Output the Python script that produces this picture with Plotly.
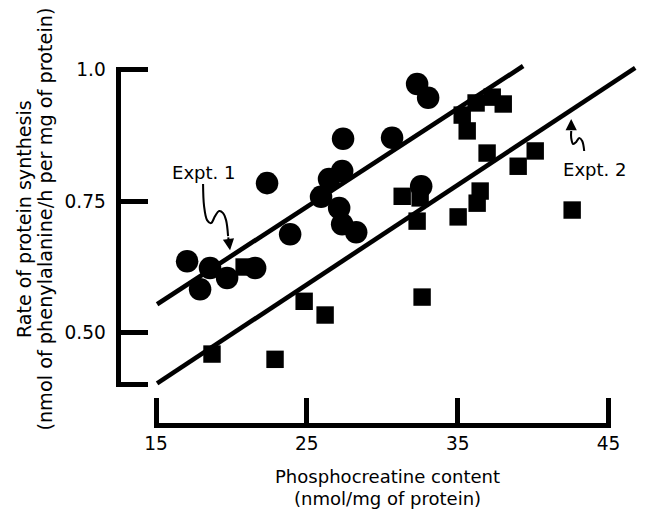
import plotly.graph_objects as go

# ---- data ----
expt1_pc = [17.06, 17.92, 18.58, 19.71, 21.57, 22.36, 23.89, 25.94, 26.47,
            27.34, 27.40, 27.14, 27.34, 28.27, 30.65, 32.31, 33.04, 32.58]
expt1_rate = [0.636, 0.583, 0.623, 0.604, 0.623, 0.784, 0.687, 0.758, 0.792,
              0.807, 0.868, 0.737, 0.706, 0.691, 0.870, 0.972, 0.946, 0.778]

expt2_pc = [18.71, 20.84, 22.89, 24.82, 26.21, 31.32, 32.51, 32.31, 32.64,
            35.03, 36.29, 36.49, 36.95, 39.01, 40.14, 42.59, 35.30, 35.63,
            36.22, 37.29, 38.02]
expt2_rate = [0.460, 0.625, 0.450, 0.560, 0.534, 0.759, 0.756, 0.712, 0.568,
              0.720, 0.746, 0.769, 0.841, 0.816, 0.845, 0.733, 0.913, 0.883,
              0.936, 0.947, 0.934]

fit1_x = [15.07, 39.34]
fit1_y = [0.5545, 1.006]
fit2_x = [15.07, 46.77]
fit2_y = [0.4045, 1.0025]

x_ticks = [15, 25, 35, 45]
x_ticktext = ["15", "25", "35", "45"]
y_ticks = [0.402, 0.50, 0.75, 1.0]
y_ticktext = ["", "0.50", "0.75", "1.0"]

# label squiggles (annotation decorations)
squig1_x = [18.117, 18.184, 18.383, 18.648, 18.913, 19.179, 19.444, 19.643, 19.776]
squig1_y = [0.7823, 0.7405, 0.7139, 0.7082, 0.7215, 0.7310, 0.7272, 0.7139, 0.6836]
tip1 = (19.908, 0.657)
squig2_x = [42.526, 42.526, 42.659, 42.858, 43.057, 43.256, 43.388]
squig2_y = [0.8829, 0.8696, 0.8582, 0.8620, 0.8696, 0.8639, 0.8449]
tip2 = (42.526, 0.9057)

FONT = "DejaVu Sans, Verdana, sans-serif"
INK = "#000000"

# ---- page geometry: the page is photographed with the browser's default
# body margin and rescaled, so layout positions are pre-compensated ----
W, H = 652, 512
SX, OXP = 0.969, 10.0     # horizontal scale / offset of the photographed page
SY, OYP = 0.983, 7.2      # vertical scale / offset
SM = (SX + SY) / 2


def px_x(p):
    """window pixel (x) -> paper fraction"""
    return (p - OXP) / SX / W


def px_y(p):
    """window pixel (y, from top) -> paper fraction"""
    return 1 - (p - OYP) / SY / H


# axis scale in window pixels (x: value 15 at 156px, 15.077 px/unit;
# y: value 1.0 at 68.3px, 526.8 px/unit)
X0P, XPX = 156.0, 15.077
Y0P, YPX = 68.3, 526.8


def xval(p):
    return 15 + (p - X0P) / XPX


def yval(p):
    return 1.0 - (p - Y0P) / YPX


PAD = 2.25   # half tick width so end ticks form flush corners
LW = 4.5 / SM
FS = 1 / 0.9697

fig = go.Figure()

fig.add_trace(go.Scatter(x=fit1_x, y=fit1_y, mode="lines",
                         line=dict(color=INK, width=LW), hoverinfo="skip"))
fig.add_trace(go.Scatter(x=fit2_x, y=fit2_y, mode="lines",
                         line=dict(color=INK, width=LW), hoverinfo="skip"))
fig.add_trace(go.Scatter(x=expt1_pc, y=expt1_rate, mode="markers", name="Expt. 1",
                         marker=dict(symbol="circle", size=22 / SM, color=INK,
                                     line=dict(width=0))))
fig.add_trace(go.Scatter(x=expt2_pc, y=expt2_rate, mode="markers", name="Expt. 2",
                         marker=dict(symbol="square", size=17 / SM, color=INK,
                                     line=dict(width=0))))
fig.add_trace(go.Scatter(x=squig1_x, y=squig1_y, mode="lines",
                         line=dict(color=INK, width=2 / SM, shape="spline", smoothing=1),
                         hoverinfo="skip"))
fig.add_trace(go.Scatter(x=squig2_x, y=squig2_y, mode="lines",
                         line=dict(color=INK, width=2 / SM, shape="spline", smoothing=1),
                         hoverinfo="skip"))
# invisible trace so the detached axes are drawn
fig.add_trace(go.Scatter(x=[30], y=[0.7], xaxis="x2", yaxis="y2", mode="markers",
                         marker=dict(opacity=0), hoverinfo="skip"))

fig.update_layout(
    width=W, height=H, showlegend=False,
    margin=dict(l=0, r=0, t=0, b=0),
    paper_bgcolor="white", plot_bgcolor="rgba(0,0,0,0)",
    font=dict(family=FONT, color=INK, size=18 * FS),
    xaxis=dict(domain=[0, 1], range=[xval(OXP), xval(OXP + W * SX)], visible=False,
               fixedrange=True),
    yaxis=dict(domain=[0, 1], range=[yval(OYP + H * SY), yval(OYP)], visible=False,
               fixedrange=True),
    xaxis2=dict(domain=[px_x(156 - PAD), px_x(608.3 + PAD)],
                range=[15 - PAD / XPX, 45 + PAD / XPX], anchor="free",
                position=px_y(424), showline=True, linewidth=LW, linecolor=INK,
                ticks="inside", ticklen=25 / SY, tickwidth=LW, tickcolor=INK,
                tickvals=x_ticks, ticktext=x_ticktext, showgrid=False, zeroline=False,
                tickfont=dict(size=18 * FS, family=FONT, color=INK),
                ticklabelstandoff=0, fixedrange=True),
    yaxis2=dict(domain=[px_y(383.3 + PAD), px_y(68.3 - PAD)],
                range=[0.402 - PAD / YPX, 1.0 + PAD / YPX],
                anchor="free", position=px_x(118.3), showline=True, linewidth=LW,
                linecolor=INK, ticks="inside", ticklen=26.5 / SX, tickwidth=LW,
                tickcolor=INK, tickvals=y_ticks, ticktext=y_ticktext, showgrid=False,
                zeroline=False, tickfont=dict(size=18 * FS, family=FONT, color=INK),
                ticklabelstandoff=7, fixedrange=True),
)

ann = []
ann.append(dict(text="Expt. 1", x=18.18, y=0.805, xref="x", yref="y",
                showarrow=False, font=dict(size=17.5 * FS), xanchor="center",
                yanchor="middle"))
ann.append(dict(text="Expt. 2", x=44.12, y=0.8107, xref="x", yref="y",
                showarrow=False, font=dict(size=17.5 * FS), xanchor="center",
                yanchor="middle"))
ann.append(dict(text="", x=tip1[0], y=tip1[1], xref="x", yref="y",
                ax=-2 / SX, ay=-14 / SY, showarrow=True, arrowhead=2, arrowsize=1.1,
                arrowwidth=2 / SM, arrowcolor=INK, standoff=0))
ann.append(dict(text="", x=tip2[0], y=tip2[1], xref="x", yref="y",
                ax=0, ay=12 / SY, showarrow=True, arrowhead=2, arrowsize=1.1,
                arrowwidth=2 / SM, arrowcolor=INK, standoff=0))
# axis titles
ann.append(dict(text="Phosphocreatine content", x=px_x(387), y=px_y(475),
                xref="paper", yref="paper", showarrow=False,
                font=dict(size=17.5 * FS), xanchor="center", yanchor="middle"))
ann.append(dict(text="(nmol/mg of protein)", x=px_x(387), y=px_y(497),
                xref="paper", yref="paper", showarrow=False,
                font=dict(size=17.5 * FS), xanchor="center", yanchor="middle"))
ann.append(dict(text="Rate of protein synthesis", x=px_x(23.5), y=px_y(218.5),
                xref="paper", yref="paper", showarrow=False,
                font=dict(size=18.5 * FS), textangle=-90, xanchor="center",
                yanchor="middle"))
ann.append(dict(text="(nmol of phenylalanine/h per mg of protein)", x=px_x(45.5),
                y=px_y(218), xref="paper", yref="paper", showarrow=False,
                font=dict(size=18.7 * FS), textangle=-90, xanchor="center",
                yanchor="middle"))
fig.update_layout(annotations=ann)

fig.write_html("out.html")
